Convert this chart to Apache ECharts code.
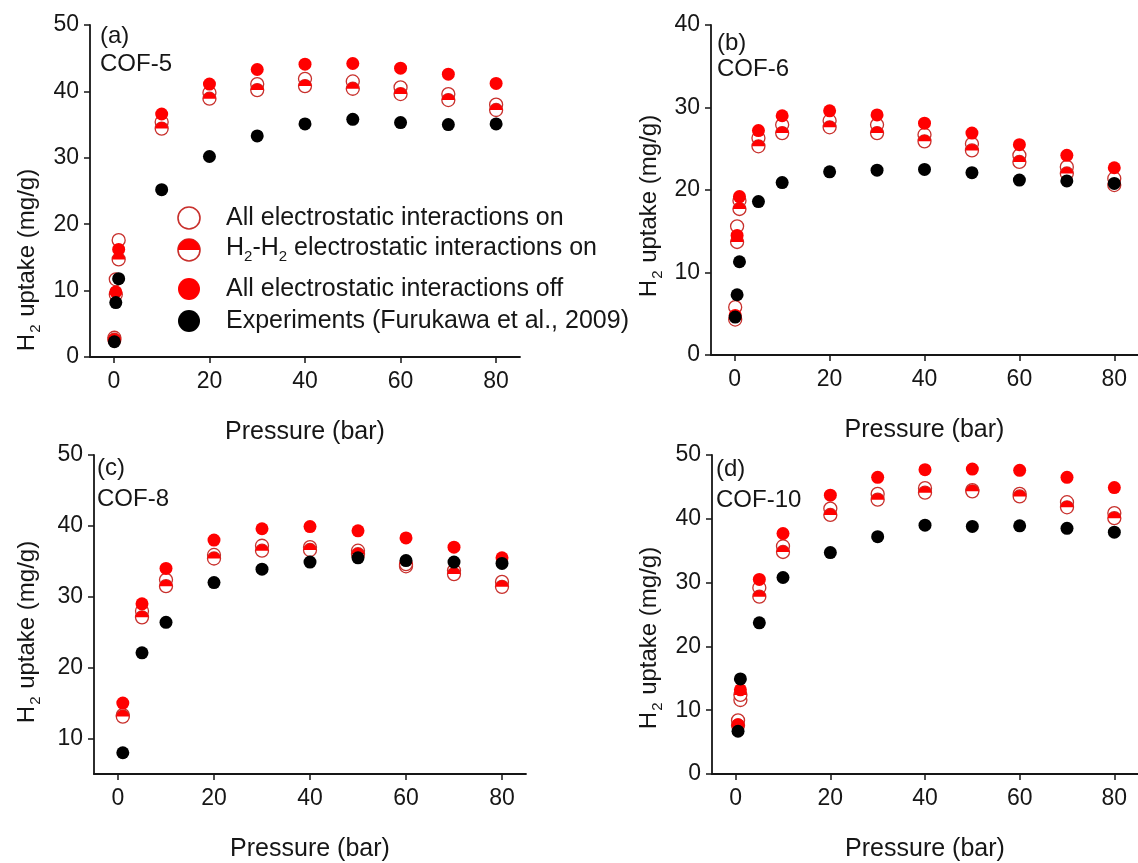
<!DOCTYPE html>
<html>
<head>
<meta charset="utf-8">
<script src="https://cdn.jsdelivr.net/npm/echarts@6/dist/echarts.min.js"></script>
<style>
  html, body { margin: 0; padding: 0; background: #ffffff; }
  #chart { width: 1138px; height: 863px; }
</style>
</head>
<body>
<div id="chart"></div>
<script>
// H2 uptake isotherms of four COFs: simulations with different electrostatic settings vs. experiments

// Tick values
const xTicks = [0, 20, 40, 60, 80];
const yTicksA = [0, 10, 20, 30, 40, 50];
const yTicksB = [0, 10, 20, 30, 40];
const yTicksC = [10, 20, 30, 40, 50];
const yTicksD = [0, 10, 20, 30, 40, 50];

// (a) COF-5
const pressureA = [0.1, 0.4, 1, 10, 20, 30, 40, 50, 60, 70, 80];
const allOnA  = [2.9, 11.7, 17.6, 35.4, 39.8, 41.1, 41.9, 41.5, 40.6, 39.6, 38.0];
const h2h2OnA = [2.6, 9.4, 14.7, 34.4, 38.9, 40.2, 40.8, 40.4, 39.6, 38.7, 37.2];
const allOffA = [2.5, 9.8, 16.2, 36.6, 41.1, 43.3, 44.1, 44.2, 43.5, 42.6, 41.2];
const expA    = [2.3, 8.2, 11.8, 25.2, 30.2, 33.3, 35.1, 35.8, 35.3, 35.0, 35.1];

// (b) COF-6
const pressureB = [0.1, 0.5, 1, 5, 10, 20, 30, 40, 50, 60, 70, 80];
const allOnB  = [5.8, 15.6, 18.7, 26.3, 27.9, 28.4, 27.9, 26.7, 25.6, 24.2, 22.8, 21.4];
const h2h2OnB = [4.3, 13.7, 17.7, 25.3, 26.9, 27.6, 26.9, 25.9, 24.8, 23.4, 22.0, 20.6];
const allOffB = [4.8, 14.5, 19.2, 27.2, 29.0, 29.6, 29.1, 28.1, 26.9, 25.5, 24.2, 22.7];
const expB    = [4.6, 7.3, 11.3, 18.6, 20.9, 22.2, 22.4, 22.5, 22.1, 21.2, 21.1, 20.8];

// (c) COF-8
const pressureC = [1, 5, 10, 20, 30, 40, 50, 60, 70, 80];
const allOnC  = [13.3, 28.0, 32.4, 35.9, 37.2, 37.0, 36.5, 34.3, 33.7, 32.1];
const h2h2OnC = [13.1, 27.1, 31.5, 35.4, 36.5, 36.6, 36.0, 34.6, 33.2, 31.4];
const allOffC = [15.0, 29.0, 34.0, 38.0, 39.6, 39.9, 39.3, 38.3, 37.0, 35.5];
const expC    = [8.0, 22.1, 26.4, 32.0, 33.9, 34.9, 35.5, 35.1, 34.9, 34.7];

// (d) COF-10
const pressureD = [0.5, 1, 5, 10, 20, 30, 40, 50, 60, 70, 80];
const allOnD  = [8.4, 11.6, 29.2, 35.7, 41.6, 43.9, 44.8, 44.5, 43.9, 42.6, 40.9];
const h2h2OnD = [7.6, 12.4, 27.8, 34.8, 40.6, 43.0, 44.1, 44.3, 43.5, 41.8, 40.1];
const allOffD = [7.7, 13.2, 30.5, 37.7, 43.7, 46.5, 47.7, 47.8, 47.6, 46.5, 44.9];
const expD    = [6.7, 14.9, 23.7, 30.8, 34.7, 37.2, 39.0, 38.8, 38.9, 38.5, 37.9];

const legendLabels = [
  'All electrostatic interactions on',
  '{n|H}{s|2}{n|-H}{s|2}{n| electrostatic interactions on}',
  'All electrostatic interactions off',
  'Experiments (Furukawa et al., 2009)'
];

const FONT = '"Liberation Sans", Arial, Helvetica, sans-serif';
const INK = '#161616';
const RED = '#ff0000';
const RED_EDGE = '#c8302c';
const MARK = 13;

const panels = [
  { p: pressureA, on: allOnA, h2: h2h2OnA, off: allOffA, ex: expA, yMin: 0, yMax: 50, yTicks: yTicksA,
    grid: { left: 90, top: 25, width: 430, height: 332 } },
  { p: pressureB, on: allOnB, h2: h2h2OnB, off: allOffB, ex: expB, yMin: 0, yMax: 40, yTicks: yTicksB,
    grid: { left: 711, top: 25, width: 431, height: 330 } },
  { p: pressureC, on: allOnC, h2: h2h2OnC, off: allOffC, ex: expC, yMin: 5, yMax: 50, yTicks: yTicksC,
    grid: { left: 94, top: 455, width: 432, height: 330 } },
  { p: pressureD, on: allOnD, h2: h2h2OnD, off: allOffD, ex: expD, yMin: 0, yMax: 50, yTicks: yTicksD,
    grid: { left: 712, top: 455, width: 429, height: 330 } }
];

const pairs = (xs, ys) => xs.map((x, i) => [x, ys[i]]);

const grids = [], xAxes = [], yAxes = [], series = [];

panels.forEach((pn, i) => {
  grids.push(Object.assign({ containLabel: false }, pn.grid));
  xAxes.push({
    type: 'value', gridIndex: i, min: -5, max: 85,
    name: 'Pressure (bar)', nameLocation: 'middle', nameGap: 63,
    nameTextStyle: { fontSize: 25, color: INK, fontFamily: FONT },
    axisLine: { onZero: false, lineStyle: { color: INK, width: 1.8 } },
    axisTick: { show: true, length: 6, customValues: xTicks, lineStyle: { color: INK, width: 1.5 } },
    axisLabel: { customValues: xTicks, fontSize: 23, margin: 13, color: INK, fontFamily: FONT },
    splitLine: { show: false }
  });
  yAxes.push({
    type: 'value', gridIndex: i, min: pn.yMin, max: pn.yMax,
    axisLine: { show: true, onZero: false, lineStyle: { color: INK, width: 1.8 } },
    axisTick: { show: true, length: 6, customValues: pn.yTicks, lineStyle: { color: INK, width: 1.5 } },
    axisLabel: { customValues: pn.yTicks, fontSize: 23, margin: 11, color: INK, fontFamily: FONT },
    splitLine: { show: false }
  });

  // open circles: all electrostatic interactions on
  series.push({
    type: 'scatter', xAxisIndex: i, yAxisIndex: i, symbol: 'circle', symbolSize: MARK,
    itemStyle: { color: '#ffffff', borderColor: RED_EDGE, borderWidth: 1.3, opacity: 1 },
    data: pairs(pn.p, pn.on), z: 2, silent: true
  });
  // half-filled circles: H2-H2 electrostatic interactions on
  series.push({
    type: 'custom', xAxisIndex: i, yAxisIndex: i, z: 3, silent: true,
    data: pairs(pn.p, pn.h2),
    encode: { x: 0, y: 1 },
    renderItem: function (params, api) {
      const c = api.coord([api.value(0), api.value(1)]);
      const r = MARK / 2;
      return {
        type: 'group',
        children: [
          { type: 'circle', shape: { cx: c[0], cy: c[1], r: r },
            style: { fill: '#ffffff', stroke: RED_EDGE, lineWidth: 1.3 } },
          { type: 'sector', shape: { cx: c[0], cy: c[1], r: r, r0: 0, startAngle: Math.PI, endAngle: 2 * Math.PI },
            style: { fill: RED } }
        ]
      };
    }
  });
  // filled red: all electrostatic interactions off
  series.push({
    type: 'scatter', xAxisIndex: i, yAxisIndex: i, symbol: 'circle', symbolSize: MARK,
    itemStyle: { color: RED, opacity: 1 }, data: pairs(pn.p, pn.off), z: 4, silent: true
  });
  // filled black: experiments
  series.push({
    type: 'scatter', xAxisIndex: i, yAxisIndex: i, symbol: 'circle', symbolSize: MARK,
    itemStyle: { color: '#000000', opacity: 1 }, data: pairs(pn.p, pn.ex), z: 5, silent: true
  });
});

// Rotated y-axis titles with subscript
const yTitle = (x, y) => ({
  type: 'text', x: x, y: y, rotation: Math.PI / 2, z: 10,
  style: {
    text: '{n|H}{s|2}{n| uptake (mg/g)}',
    align: 'center', verticalAlign: 'middle', fill: INK,
    rich: {
      n: { fontSize: 24, fontFamily: FONT, fill: INK, lineHeight: 28, verticalAlign: 'top' },
      s: { fontSize: 15, fontFamily: FONT, fill: INK, lineHeight: 15, padding: [17, 1, 0, 1], verticalAlign: 'bottom' }
    }
  }
});

const panelText = (x, y, t) => ({
  type: 'text', x: x, y: y, z: 10,
  style: { text: t, fontSize: 24, fontFamily: FONT, fill: INK, verticalAlign: 'middle' }
});

// Legend drawn in panel (a)
const LX = 189, LR = 11, LT = 226;
const LY = [218, 250, 289, 321];
const legend = [
  { type: 'circle', shape: { cx: LX, cy: LY[0], r: LR }, style: { fill: '#fff', stroke: RED_EDGE, lineWidth: 1.6 }, z: 10 },
  { type: 'circle', shape: { cx: LX, cy: LY[1], r: LR }, style: { fill: '#fff', stroke: RED_EDGE, lineWidth: 1.6 }, z: 10 },
  { type: 'sector', shape: { cx: LX, cy: LY[1], r: LR, r0: 0, startAngle: Math.PI, endAngle: 2 * Math.PI }, style: { fill: RED }, z: 11 },
  { type: 'circle', shape: { cx: LX, cy: LY[2], r: LR }, style: { fill: RED }, z: 10 },
  { type: 'circle', shape: { cx: LX, cy: LY[3], r: LR }, style: { fill: '#000' }, z: 10 }
];
legendLabels.forEach((t, k) => {
  legend.push({
    type: 'text', x: LT, y: LY[k], z: 10,
    style: {
      text: t, fontSize: 25, fontFamily: FONT, fill: INK, verticalAlign: 'middle',
      rich: {
        n: { fontSize: 25, fontFamily: FONT, fill: INK, lineHeight: 29, verticalAlign: 'top' },
        s: { fontSize: 15, fontFamily: FONT, fill: INK, lineHeight: 15, padding: [18, 0, 0, 0], verticalAlign: 'bottom' }
      }
    }
  });
});

const chart = echarts.init(document.getElementById('chart'), null, { renderer: 'canvas' });
chart.setOption({
  backgroundColor: '#ffffff',
  animation: false,
  textStyle: { fontFamily: FONT },
  grid: grids,
  xAxis: xAxes,
  yAxis: yAxes,
  series: series,
  graphic: [
    yTitle(29, 260), yTitle(651, 206), yTitle(29, 632), yTitle(651, 638),
    panelText(100, 36, '(a)'), panelText(100, 64, 'COF-5'),
    panelText(717, 43, '(b)'), panelText(717, 69, 'COF-6'),
    panelText(97, 468, '(c)'), panelText(97, 499, 'COF-8'),
    panelText(716, 469, '(d)'), panelText(716, 500, 'COF-10')
  ].concat(legend)
});
</script>
</body>
</html>
